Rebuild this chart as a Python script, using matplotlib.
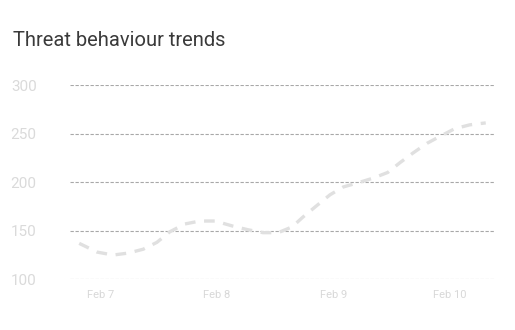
import numpy as np
import pandas as pd
import matplotlib
matplotlib.use("Agg")
import matplotlib.pyplot as plt
import matplotlib.dates as mdates

plt.rcParams['font.family'] = ['Roboto', 'DejaVu Sans']

# hours after Feb 7 00:00 and the value
hours = [-4.4, -0.7, 2.6, 5.7, 8.8, 11.6, 14.3, 17.4, 20.5, 23.6, 27.1, 30.4, 33.5,
         36.6, 39.5, 41.7, 44.6, 47.3, 50.0, 52.8, 56.1, 59.2, 61.7, 64.4, 67.3,
         69.9, 73.0, 76.1, 79.4]
values = [137, 128, 125, 127, 131, 138, 149, 157, 160, 160, 155, 151, 148,
          148, 154, 164, 176, 187, 195, 199, 204, 210, 220, 230, 240,
          247, 255, 259, 261]

start = pd.Timestamp("2024-02-07")
times = [start + pd.Timedelta(hours=h) for h in hours]

fig = plt.figure(figsize=(5.15, 3.3), dpi=100)
ax = fig.add_axes([0.1359, 0.1536, 0.8252, 0.5888])

ax.plot(times, values, color="#e0e0e0", lw=2.4, dashes=(3.2, 2.6),
        solid_capstyle="butt", zorder=3)

ax.set_ylim(100, 300)
ax.set_yticks([100, 150, 200, 250, 300])
ax.set_xlim(start - pd.Timedelta(hours=6.3), start + pd.Timedelta(hours=81.3))
ax.xaxis.set_major_locator(mdates.DayLocator())
ax.xaxis.set_major_formatter(mdates.DateFormatter("%b %-d"))

ax.grid(axis="y", color="#a8a8a8", lw=0.8, ls=(0, (3, 1.5)))
ax.set_axisbelow(True)
for s in ax.spines.values():
    s.set_visible(False)
ax.tick_params(axis="y", length=0, pad=24, labelsize=11, labelcolor="#dadada")
ax.tick_params(axis="x", length=0, pad=8, labelsize=8, labelcolor="#d8d8d8")

fig.text(13 / 515, 1 - 40 / 330, "Threat behaviour trends", fontsize=14.5,
         color="#3a3a3a", va="center", ha="left")

fig.savefig("out.png", dpi=100)
